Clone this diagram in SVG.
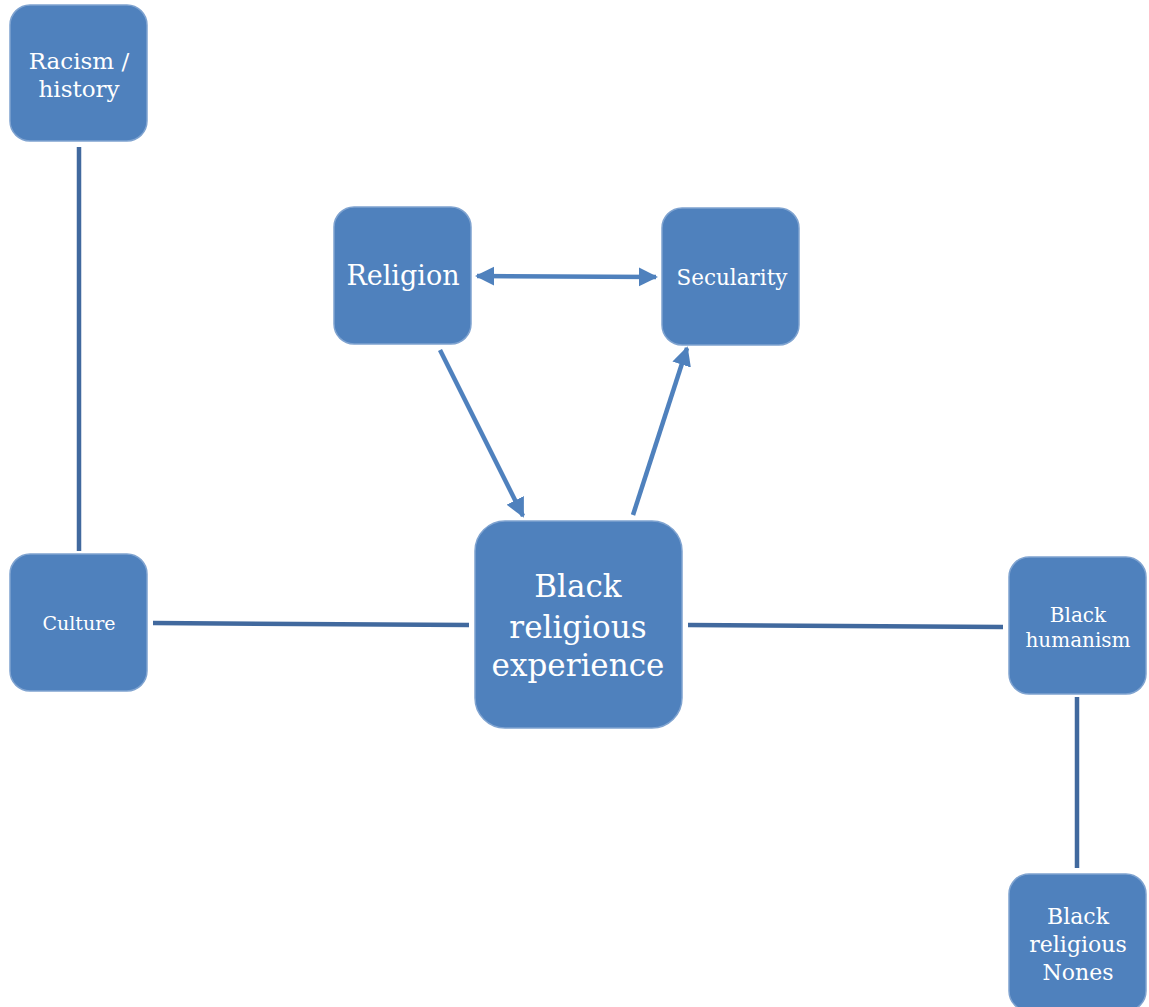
<svg xmlns="http://www.w3.org/2000/svg" width="1149" height="1007" viewBox="0 0 1149 1007">
<style>
.n{fill:#4f81bd;stroke:#7fa3d0;stroke-width:1.5}
.t{fill:#fff;font-family:"DejaVu Serif","Liberation Serif",serif;text-anchor:middle}
.l{stroke:#41699e;stroke-width:4.5;fill:none}
.a{stroke:#4f81bd;stroke-width:4.5;fill:none}
</style>
<defs>
<marker id="ah" viewBox="0 0 10 10" refX="9" refY="5" markerWidth="4.3" markerHeight="4.3" orient="auto-start-reverse" markerUnits="strokeWidth">
<path d="M0,0 L10,5 L0,10 z" fill="#4f81bd"/>
</marker>
</defs>
<rect width="1149" height="1007" fill="#fff"/>
<g id="connectors">
<line class="l" x1="79" y1="147" x2="79" y2="551"/>
<line class="l" x1="153" y1="623" x2="469" y2="625"/>
<line class="l" x1="688" y1="625" x2="1003" y2="627"/>
<line class="l" x1="1077" y1="697" x2="1077" y2="868"/>
<line class="a" x1="477" y1="276" x2="656" y2="277" marker-start="url(#ah)" marker-end="url(#ah)"/>
<line class="a" x1="440" y1="350" x2="523" y2="516" marker-end="url(#ah)"/>
<line class="a" x1="633" y1="515" x2="687" y2="348" marker-end="url(#ah)"/>
</g>
<g id="racism"><rect class="n" x="10" y="5" width="137" height="136" rx="20"/>
<text class="t" font-size="23"><tspan x="79" y="69">Racism /</tspan><tspan x="79" y="97">history</tspan></text></g>
<g id="religion"><rect class="n" x="334" y="207" width="137" height="137" rx="20"/>
<text class="t" font-size="27" x="403" y="285">Religion</text></g>
<g id="secularity"><rect class="n" x="662" y="208" width="137" height="137" rx="20"/>
<text class="t" font-size="21.5" x="732" y="285">Secularity</text></g>
<g id="bre"><rect class="n" x="475" y="521" width="207" height="207" rx="30"/>
<text class="t" font-size="31"><tspan x="578" y="597">Black</tspan><tspan x="578" y="638">religious</tspan><tspan x="578" y="676">experience</tspan></text></g>
<g id="culture"><rect class="n" x="10" y="554" width="137" height="137" rx="20"/>
<text class="t" font-size="19" x="79" y="630">Culture</text></g>
<g id="humanism"><rect class="n" x="1009" y="557" width="137" height="137" rx="20"/>
<text class="t" font-size="20"><tspan x="1078" y="622">Black</tspan><tspan x="1078" y="647">humanism</tspan></text></g>
<g id="nones"><rect class="n" x="1009" y="874" width="137" height="137" rx="20"/>
<text class="t" font-size="22"><tspan x="1078" y="924">Black</tspan><tspan x="1078" y="952">religious</tspan><tspan x="1078" y="980">Nones</tspan></text></g>
</svg>
